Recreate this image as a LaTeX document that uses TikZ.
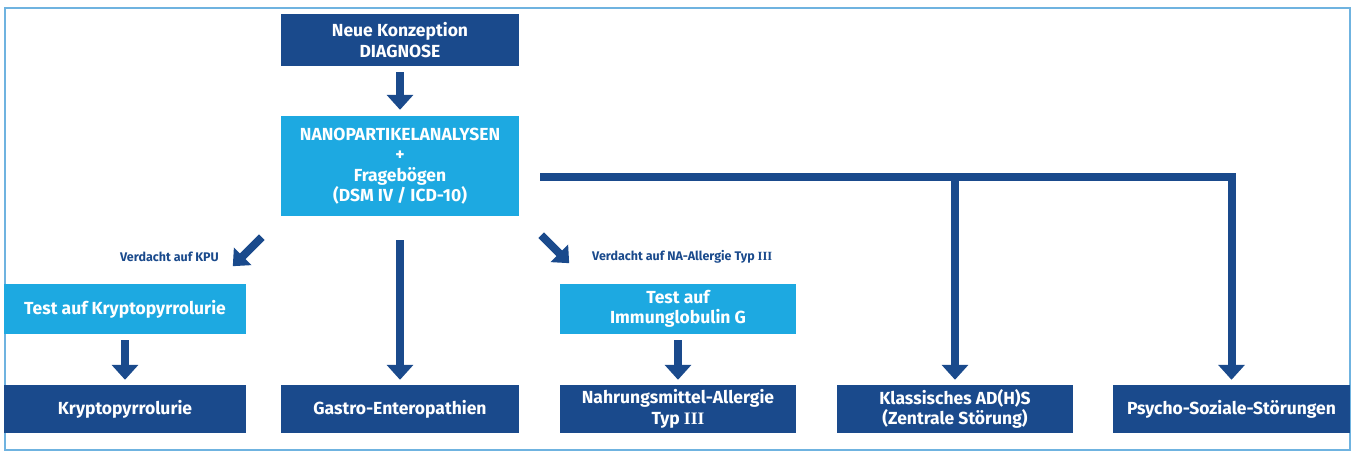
\documentclass[tikz,border=0pt]{standalone}
\usepackage{fontspec}
\setmainfont{Fira Sans}
\newfontfamily\romIII{Liberation Serif}
\usetikzlibrary{arrows.meta,calc}
\definecolor{dkblue}{HTML}{1A4A8C}
\definecolor{ltblue}{HTML}{1DA9E1}
\definecolor{frameblue}{HTML}{6FB3E0}
\begin{document}
\begin{tikzpicture}[x=1pt,y=-1pt,
  boxbase/.style={text=white, inner sep=0pt, align=center,
    font=\bfseries\fontsize{17.5}{20.5}\selectfont},
  dkbox/.style={boxbase, fill=dkblue},
  ltbox/.style={boxbase, fill=ltblue},
  arr/.style={draw=dkblue, line width=8pt, -{Triangle[width=26pt,length=15pt]}},
  diag/.style={draw=dkblue, line width=8pt, -{Triangle[width=24pt,length=14pt]}},
  hline/.style={draw=dkblue, line width=8pt, line join=miter},
  lbl/.style={text=dkblue, inner sep=0pt, font=\bfseries\fontsize{12.5}{14}\selectfont}]
\useasboundingbox (0,0) rectangle (1352,453);
\draw[frameblue, line width=1.5pt] (5,8) rectangle (1350,450);

\node[dkbox, minimum width=238pt, minimum height=52pt] (top) at (400,40) {Neue Konzeption\\DIAGNOSE};
\node[ltbox, minimum width=238pt, minimum height=100pt] (mid) at (400,166) {NANOPARTIKELANALYSEN\\+\\Fragebögen\\(DSM IV / ICD-10)};
\node[ltbox, minimum width=242pt, minimum height=50pt] (testk) at (125,309) {Test auf Kryptopyrrolurie};
\node[ltbox, minimum width=236pt, minimum height=50pt] (testi) at (678,309) {Test auf\\Immunglobulin G};
\node[dkbox, minimum width=242pt, minimum height=48pt] (kryp) at (125,409) {Kryptopyrrolurie};
\node[dkbox, minimum width=238pt, minimum height=48pt] (gastro) at (400,409) {Gastro-Enteropathien};
\node[dkbox, minimum width=236pt, minimum height=48pt] (nahr) at (678,409) {Nahrungsmittel-Allergie\\Typ {\romIII III}};
\node[dkbox, minimum width=236pt, minimum height=48pt] (klass) at (955,409) {Klassisches AD(H)S\\(Zentrale Störung)};
\node[dkbox, minimum width=237pt, minimum height=48pt] (psycho) at (1231.5,409) {Psycho-Soziale-Störungen};

\node[lbl, anchor=east] (lkpu) at (219,257) {Verdacht auf KPU};
\node[lbl, anchor=west] (lna) at (592,257) {Verdacht auf NA-Allergie Typ {\romIII III}};

\draw[arr] ($(top.south)+(0,6)$) -- ($(mid.north)+(0,-6)$);
\draw[arr] ($(mid.south)+(0,24)$) -- ($(gastro.north)+(0,-5)$);
\draw[arr] ($(testk.south)+(0,6)$) -- ($(kryp.north)+(0,-5)$);
\draw[arr] ($(testi.south)+(0,6)$) -- ($(nahr.north)+(0,-5)$);

\coordinate (hs) at ($(mid.east)+(21,11)$);
\draw[hline] (hs) -- (hs -| psycho.north);
\draw[arr] ($(hs -| psycho.north)+(0,-4)$) -- ($(psycho.north)+(0,-5)$);
\draw[arr] ($(hs -| klass.north)+(0,-4)$) -- ($(klass.north)+(0,-5)$);

\coordinate (dl1) at ($(mid.south west)+(-19,21)$);
\coordinate (dl2) at ($(mid.south west)+(-48,50)$);
\coordinate (dr1) at ($(mid.south east)+(22,19)$);
\coordinate (dr2) at ($(mid.south east)+(50,47)$);
\draw[diag] (dl1) -- (dl2);
\draw[diag] (dr1) -- (dr2);
\end{tikzpicture}
\end{document}
